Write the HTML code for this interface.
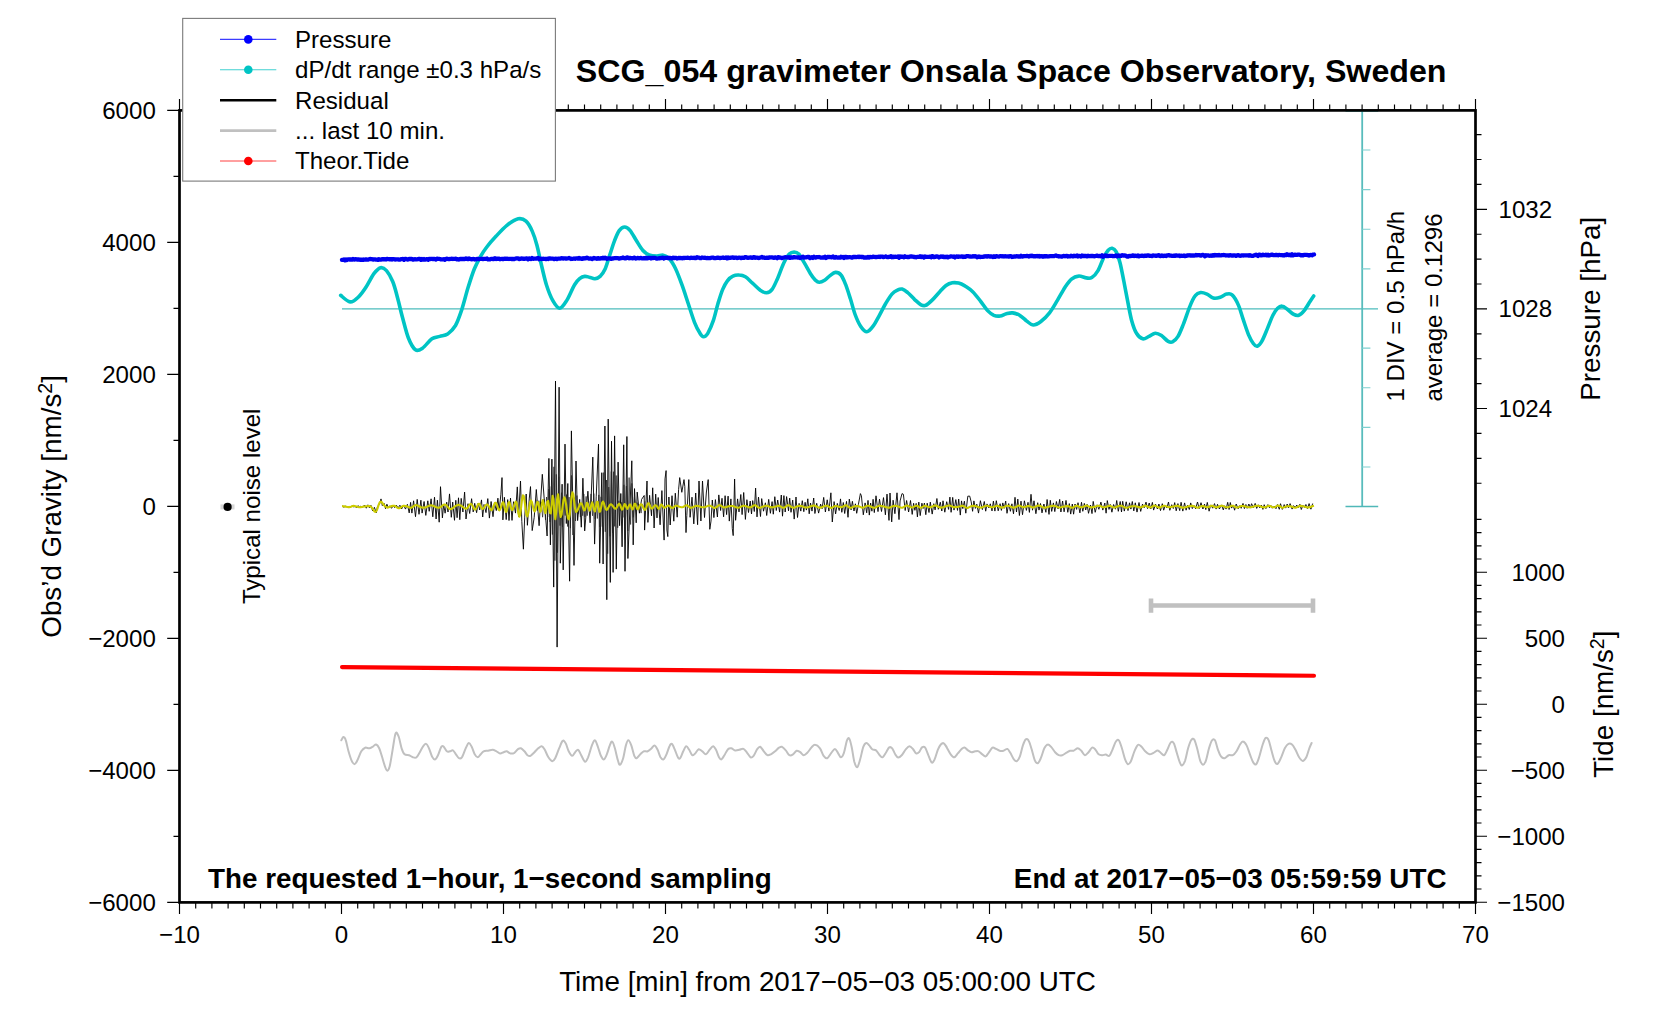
<!DOCTYPE html>
<html lang="en"><head><meta charset="utf-8"><title>SCG_054 gravimeter Onsala Space Observatory, Sweden</title>
<style>html,body{margin:0;padding:0;background:#fff}svg{display:block}text{font-family:"Liberation Sans",Arial,Helvetica,sans-serif;fill:#000}.a{font-size:24.1px}.l{font-size:27.8px}.b{font-size:27.8px;font-weight:bold}.t{font-size:32.2px;font-weight:bold}.k{stroke:#000;stroke-width:1.15;fill:none}</style></head><body>
<svg width="1676" height="1020" viewBox="0 0 1676 1020">
<rect width="1676" height="1020" fill="#fff"/>
<path d="M342,308.9H1378" stroke="#4cbcbc" stroke-width="1.2" fill="none"/>
<path d="M1362.2,110.4V506.6" stroke="#58bcbc" stroke-width="1.8" fill="none"/>
<path d="M1345.5,111.0H1378.2 M1345.5,506.6H1378.2" stroke="#50b8b8" stroke-width="1.5" fill="none"/>
<path d="M1362.2,150.0h8.2M1362.2,189.6h8.2M1362.2,229.3h8.2M1362.2,268.9h8.2M1362.2,348.1h8.2M1362.2,387.7h8.2M1362.2,427.4h8.2M1362.2,467.0h8.2" stroke="#7fcfcf" stroke-width="1.1" fill="none"/>
<path d="M341.3,740.3C341.7,739.7 342.7,737.2 343.4,737.0C344.1,736.9 344.7,737.0 345.5,739.4C346.4,741.8 347.5,747.8 348.5,751.3C349.5,754.8 350.5,758.1 351.5,760.3C352.5,762.4 353.5,764.2 354.5,764.2C355.5,764.2 356.3,762.4 357.4,760.3C358.6,758.1 360.0,753.4 361.3,751.3C362.6,749.2 363.9,748.2 365.2,747.7C366.5,747.2 368.0,748.6 369.4,748.3C370.7,748.1 372.1,746.9 373.3,746.3C374.4,745.6 375.2,744.1 376.2,744.5C377.2,744.8 378.2,746.2 379.2,748.3C380.2,750.5 381.2,754.2 382.2,757.3C383.2,760.4 384.3,764.9 385.2,767.1C386.0,769.4 386.5,770.9 387.3,770.7C388.0,770.6 388.8,769.7 389.7,766.2C390.6,762.8 391.7,755.3 392.6,749.8C393.6,744.4 394.6,735.7 395.6,733.4C396.6,731.2 397.6,733.9 398.6,736.4C399.6,738.9 400.6,745.4 401.6,748.3C402.6,751.3 403.3,753.2 404.6,754.3C405.8,755.5 407.7,754.7 409.1,755.2C410.4,755.7 411.7,756.9 412.9,757.3C414.2,757.6 415.4,758.0 416.5,757.3C417.6,756.5 418.4,754.7 419.5,752.8C420.6,751.0 422.0,747.7 423.1,746.3C424.2,744.8 425.1,743.5 426.1,743.9C427.1,744.2 428.1,746.3 429.0,748.3C430.0,750.4 431.0,754.6 432.0,756.4C433.0,758.2 434.0,759.6 435.0,759.4C436.0,759.2 437.0,757.2 438.0,755.2C439.0,753.2 440.1,748.9 441.0,747.4C441.9,746.0 442.4,745.6 443.4,746.3C444.4,746.9 445.9,750.5 446.9,751.3C448.0,752.2 448.9,751.5 449.9,751.3C450.9,751.2 451.9,749.9 452.9,750.4C453.9,750.9 454.9,753.0 455.9,754.3C456.9,755.6 457.9,757.7 458.9,758.2C459.9,758.7 460.7,758.9 461.9,757.3C463.0,755.7 464.6,750.7 465.7,748.3C466.9,746.0 467.7,743.2 468.7,743.0C469.7,742.7 470.7,745.0 471.7,746.8C472.7,748.7 473.7,752.6 474.7,754.3C475.7,756.0 476.7,757.3 477.7,757.3C478.7,757.3 479.7,755.3 480.7,754.3C481.7,753.3 482.4,751.9 483.6,751.3C484.9,750.7 486.6,751.0 488.1,750.7C489.6,750.5 491.2,749.7 492.6,749.8C494.0,749.9 495.2,750.7 496.5,751.3C497.7,751.9 498.9,753.3 500.0,753.4C501.2,753.6 502.5,752.6 503.6,752.2C504.7,751.9 505.5,751.1 506.6,751.3C507.8,751.5 509.2,753.2 510.5,753.4C511.8,753.7 513.1,753.5 514.4,752.8C515.6,752.1 516.9,750.0 517.9,749.2C519.0,748.5 519.8,748.0 520.9,748.3C522.0,748.7 523.4,750.2 524.5,751.3C525.6,752.5 526.5,754.5 527.5,755.2C528.5,755.9 529.3,756.3 530.5,755.8C531.6,755.3 533.1,753.5 534.4,752.2C535.6,751.0 537.0,749.3 538.2,748.3C539.5,747.3 540.7,746.0 541.8,746.3C542.9,746.5 543.7,748.0 544.8,749.8C545.9,751.7 547.1,755.4 548.4,757.3C549.6,759.2 551.1,761.0 552.3,761.2C553.4,761.3 554.1,760.3 555.2,758.2C556.4,756.0 557.9,751.2 559.1,748.3C560.4,745.5 561.6,741.7 562.7,740.9C563.8,740.0 564.7,741.5 565.7,743.3C566.7,745.0 567.6,749.2 568.7,751.3C569.8,753.4 571.1,755.7 572.2,755.8C573.3,755.9 574.2,753.2 575.2,752.2C576.2,751.2 577.2,749.3 578.2,749.8C579.2,750.3 580.0,753.2 581.2,755.2C582.3,757.2 583.9,761.4 585.1,761.8C586.2,762.1 586.9,760.0 588.1,757.3C589.2,754.6 590.8,748.2 591.9,745.4C593.1,742.5 593.9,740.0 594.9,740.3C595.9,740.5 596.9,744.3 597.9,746.8C598.9,749.4 599.9,753.7 600.9,755.8C601.9,757.9 602.9,759.6 603.9,759.4C604.9,759.1 605.9,756.6 606.8,754.3C607.8,752.0 608.9,747.5 609.8,745.4C610.7,743.2 611.4,741.0 612.2,741.5C613.1,742.0 614.0,745.2 614.9,748.3C615.8,751.5 617.0,757.5 617.9,760.3C618.7,763.0 619.1,765.0 620.0,764.7C620.8,764.5 622.0,762.0 623.0,758.8C624.0,755.6 625.0,748.4 625.9,745.4C626.8,742.3 627.4,740.3 628.3,740.3C629.2,740.3 630.3,742.8 631.3,745.4C632.3,747.9 633.4,753.7 634.3,755.8C635.2,757.9 635.7,758.4 636.7,758.2C637.7,757.9 639.1,755.5 640.3,754.3C641.5,753.2 642.6,751.8 643.8,751.3C645.1,750.8 646.4,751.8 647.7,751.3C649.0,750.8 650.5,749.3 651.6,748.3C652.7,747.3 653.6,745.1 654.6,745.4C655.6,745.6 656.6,747.8 657.6,749.8C658.6,751.8 659.6,755.7 660.5,757.3C661.5,758.9 662.5,759.9 663.5,759.4C664.5,758.9 665.5,756.5 666.5,754.3C667.5,752.1 668.6,748.0 669.5,746.3C670.4,744.5 671.0,743.3 671.9,743.9C672.8,744.5 673.9,747.6 674.9,749.8C675.9,752.1 677.0,755.9 677.9,757.3C678.7,758.7 679.3,759.2 680.2,758.2C681.1,757.2 682.2,753.3 683.2,751.3C684.2,749.3 685.2,746.5 686.2,746.3C687.2,746.0 688.2,748.3 689.2,749.8C690.2,751.3 691.2,754.6 692.2,755.2C693.2,755.8 694.1,754.4 695.2,753.4C696.2,752.4 697.5,749.6 698.7,749.2C699.9,748.9 701.1,750.5 702.3,751.3C703.5,752.2 704.7,754.6 705.9,754.3C707.1,754.1 708.3,751.2 709.5,749.8C710.7,748.5 712.0,746.3 713.1,746.3C714.1,746.3 715.0,748.0 716.0,749.8C717.0,751.7 718.1,755.7 719.0,757.3C719.9,758.9 720.5,759.7 721.4,759.4C722.3,759.0 723.3,756.9 724.4,755.2C725.5,753.5 726.8,750.4 728.0,749.2C729.1,748.1 730.1,748.1 731.3,748.3C732.4,748.5 733.8,750.2 735.1,750.4C736.5,750.7 737.9,750.1 739.3,749.8C740.7,749.6 742.2,748.4 743.5,748.9C744.8,749.4 745.9,751.4 747.1,752.8C748.3,754.2 749.6,756.8 750.6,757.3C751.7,757.8 752.5,757.1 753.6,755.8C754.7,754.5 756.1,750.7 757.2,749.2C758.3,747.7 759.1,746.5 760.2,746.8C761.3,747.2 762.6,749.9 763.8,751.3C765.0,752.7 766.2,754.7 767.4,755.2C768.5,755.7 769.6,755.0 770.9,754.3C772.2,753.7 773.8,752.4 775.1,751.3C776.4,750.2 777.8,748.5 779.0,747.7C780.1,747.0 780.8,746.4 782.0,746.8C783.1,747.3 784.6,749.0 785.8,750.4C787.1,751.8 788.2,754.6 789.4,755.2C790.6,755.8 791.8,755.1 793.0,754.3C794.2,753.6 795.4,751.1 796.6,750.7C797.8,750.4 799.0,751.5 800.2,752.2C801.4,753.0 802.6,755.1 803.7,755.2C804.9,755.3 806.0,754.1 807.3,752.8C808.6,751.5 810.2,748.8 811.5,747.4C812.8,746.1 813.7,744.6 815.1,744.8C816.5,744.9 818.6,746.5 820.0,748.3C821.4,750.2 822.4,754.2 823.6,755.8C824.8,757.4 825.9,758.7 827.2,758.2C828.5,757.7 830.0,754.4 831.3,752.8C832.6,751.3 833.8,748.9 834.9,748.9C836.0,748.9 836.9,751.4 837.9,752.8C838.9,754.2 839.9,757.3 840.9,757.3C841.9,757.3 842.9,755.6 843.9,752.8C844.9,750.1 846.0,743.3 846.8,740.9C847.7,738.5 848.4,737.5 849.2,738.5C850.0,739.5 850.8,743.0 851.6,746.8C852.5,750.7 853.4,758.4 854.3,761.8C855.3,765.1 856.3,767.6 857.3,767.1C858.3,766.6 859.3,762.2 860.3,758.8C861.3,755.4 862.3,749.5 863.3,746.8C864.3,744.2 865.2,743.2 866.2,743.0C867.2,742.7 868.2,744.3 869.2,745.4C870.2,746.4 871.1,748.4 872.2,749.2C873.4,750.1 874.8,749.4 876.1,750.4C877.3,751.4 878.6,754.1 879.7,755.2C880.8,756.3 881.6,757.8 882.6,757.3C883.7,756.8 885.1,753.9 886.2,752.2C887.3,750.6 888.2,748.1 889.2,747.4C890.2,746.8 891.2,747.2 892.2,748.3C893.2,749.5 894.2,752.8 895.2,754.3C896.2,755.8 897.1,757.4 898.2,757.6C899.3,757.7 900.4,756.6 901.7,755.2C903.0,753.8 904.6,750.7 905.9,749.2C907.2,747.7 908.3,746.3 909.5,746.3C910.7,746.3 912.0,748.0 913.1,749.2C914.2,750.4 915.1,752.9 916.1,753.4C917.1,753.9 918.1,753.2 919.0,752.2C920.0,751.2 921.0,748.2 922.0,747.4C923.0,746.7 924.0,746.3 925.0,747.4C926.0,748.6 926.9,751.8 928.0,754.3C929.1,756.8 930.5,761.5 931.6,762.4C932.7,763.2 933.5,761.5 934.6,759.4C935.6,757.3 936.8,752.3 937.8,749.8C938.9,747.3 939.8,745.6 940.8,744.5C941.8,743.4 942.8,742.8 943.8,743.3C944.8,743.8 945.6,745.6 946.8,747.4C947.9,749.3 949.4,752.7 950.7,754.3C951.9,755.9 953.1,757.4 954.2,757.3C955.4,757.1 956.6,754.8 957.8,753.4C959.0,752.1 960.3,750.2 961.4,749.2C962.5,748.2 963.3,747.2 964.4,747.4C965.5,747.6 966.8,749.6 968.0,750.4C969.2,751.2 970.4,752.1 971.6,752.2C972.7,752.4 973.9,751.5 975.1,751.3C976.3,751.2 977.5,750.8 978.7,751.3C979.9,751.8 981.1,753.5 982.3,754.3C983.4,755.2 984.5,756.6 985.6,756.4C986.6,756.1 987.4,754.3 988.6,752.8C989.7,751.4 991.2,748.4 992.4,747.7C993.7,747.1 994.8,748.4 996.0,748.9C997.2,749.4 998.4,750.4 999.6,750.7C1000.8,751.0 1002.2,751.0 1003.5,750.7C1004.8,750.4 1006.2,748.6 1007.4,748.9C1008.5,749.3 1009.2,751.1 1010.3,752.8C1011.4,754.6 1012.8,758.0 1013.9,759.4C1015.0,760.8 1015.9,761.7 1016.9,761.2C1017.9,760.7 1018.9,759.0 1019.9,756.4C1020.9,753.8 1021.9,748.2 1022.9,745.4C1023.9,742.5 1024.9,740.1 1025.8,739.4C1026.8,738.6 1027.8,739.1 1028.8,740.9C1029.8,742.6 1030.8,746.6 1031.8,749.8C1032.8,753.1 1033.8,758.0 1034.8,760.3C1035.8,762.5 1036.8,763.6 1037.8,763.3C1038.8,762.9 1039.7,760.7 1040.8,758.2C1041.9,755.7 1043.2,750.6 1044.3,748.3C1045.5,746.1 1046.7,744.6 1047.9,744.5C1049.1,744.3 1050.3,746.2 1051.5,747.4C1052.7,748.7 1053.9,750.9 1055.1,752.2C1056.3,753.5 1057.5,754.7 1058.7,755.2C1059.9,755.7 1061.0,755.6 1062.2,755.2C1063.5,754.8 1064.8,753.6 1066.1,752.8C1067.4,752.1 1068.8,751.1 1070.0,750.7C1071.2,750.4 1072.3,751.1 1073.6,750.7C1074.9,750.3 1076.5,748.3 1077.8,748.3C1079.0,748.3 1080.1,749.6 1081.3,750.7C1082.5,751.9 1083.7,755.0 1084.9,755.2C1086.1,755.5 1087.3,753.5 1088.5,752.2C1089.7,751.0 1091.0,748.2 1092.1,747.7C1093.2,747.2 1094.0,748.1 1095.1,749.2C1096.2,750.3 1097.4,753.3 1098.6,754.3C1099.8,755.3 1101.0,755.2 1102.2,755.2C1103.4,755.3 1104.6,754.5 1105.8,754.6C1107.0,754.7 1108.3,756.6 1109.4,755.8C1110.5,755.0 1111.3,752.2 1112.4,749.8C1113.5,747.4 1114.8,743.1 1115.9,741.5C1117.0,739.9 1117.9,739.1 1118.9,740.3C1119.9,741.4 1120.9,745.3 1121.9,748.3C1122.9,751.4 1123.9,756.1 1124.9,758.8C1125.9,761.4 1126.9,763.8 1127.9,764.2C1128.9,764.6 1129.8,763.3 1130.9,761.2C1132.0,759.0 1133.2,754.1 1134.4,751.3C1135.6,748.6 1136.8,745.5 1138.0,744.8C1139.2,744.0 1140.4,745.8 1141.6,746.8C1142.8,747.9 1143.9,750.1 1145.2,751.3C1146.5,752.6 1148.0,754.1 1149.4,754.3C1150.7,754.6 1152.1,753.5 1153.5,752.8C1154.9,752.2 1156.4,750.3 1157.7,750.4C1159.0,750.5 1160.2,752.6 1161.3,753.4C1162.4,754.2 1163.3,755.8 1164.3,755.2C1165.3,754.6 1166.2,752.0 1167.3,749.8C1168.3,747.7 1169.7,743.5 1170.8,742.4C1171.9,741.3 1172.8,741.5 1173.8,743.3C1174.8,745.0 1175.8,749.6 1176.8,752.8C1177.8,756.0 1178.9,760.3 1179.8,762.4C1180.7,764.5 1181.3,765.7 1182.2,765.3C1183.1,765.0 1184.2,763.1 1185.2,760.3C1186.1,757.4 1187.1,751.7 1188.1,748.3C1189.1,745.0 1190.1,741.8 1191.1,740.3C1192.1,738.8 1193.1,738.0 1194.1,739.4C1195.1,740.7 1196.1,744.9 1197.1,748.3C1198.1,751.8 1199.1,757.5 1200.1,760.3C1201.1,763.0 1202.1,764.7 1203.1,764.7C1204.0,764.7 1205.0,763.0 1206.0,760.3C1207.0,757.5 1208.0,751.7 1209.0,748.3C1210.0,745.0 1211.0,741.6 1212.0,740.3C1213.0,738.9 1214.0,738.7 1215.0,740.3C1216.0,741.9 1217.0,747.1 1218.0,749.8C1219.0,752.5 1219.9,755.0 1221.0,756.4C1222.0,757.8 1223.2,758.4 1224.5,758.2C1225.8,758.0 1227.3,755.7 1228.7,755.2C1230.1,754.7 1231.6,755.8 1232.9,755.2C1234.2,754.6 1235.3,753.1 1236.5,751.3C1237.7,749.5 1239.0,746.1 1240.0,744.5C1241.1,742.8 1241.9,741.3 1243.0,741.5C1244.1,741.6 1245.4,743.1 1246.6,745.4C1247.8,747.6 1249.1,752.4 1250.2,755.2C1251.3,758.0 1252.2,760.9 1253.2,762.4C1254.2,763.9 1255.2,765.0 1256.2,764.2C1257.2,763.3 1258.0,760.6 1259.1,757.3C1260.2,754.0 1261.6,747.7 1262.7,744.5C1263.8,741.2 1264.7,738.6 1265.7,737.9C1266.7,737.2 1267.7,738.0 1268.7,740.3C1269.7,742.5 1270.7,747.8 1271.7,751.3C1272.7,754.8 1273.7,759.1 1274.7,761.2C1275.6,763.3 1276.5,764.5 1277.6,763.9C1278.7,763.2 1280.0,759.9 1281.2,757.3C1282.4,754.7 1283.6,750.6 1284.8,748.3C1286.0,746.1 1287.2,744.5 1288.4,743.9C1289.6,743.2 1290.8,743.5 1292.0,744.5C1293.2,745.5 1294.3,747.7 1295.5,749.8C1296.7,752.0 1297.9,755.5 1299.1,757.3C1300.3,759.1 1301.5,760.9 1302.7,760.9C1303.9,760.9 1305.2,759.4 1306.3,757.3C1307.4,755.2 1308.4,750.7 1309.3,748.3C1310.2,746.0 1311.2,743.9 1311.6,743.0" stroke="#c0c0c0" stroke-width="2" fill="none" stroke-linejoin="round" stroke-linecap="round"/>
<path d="M340.7,295.3C342.2,296.4 347.1,301.6 350.1,301.9C353.0,302.2 355.6,299.7 358.2,297.2C360.9,294.7 363.5,291.0 366.1,287.0C368.7,283.1 371.5,276.9 373.9,273.7C376.3,270.5 378.4,268.3 380.5,267.7C382.6,267.2 384.4,268.3 386.5,270.6C388.5,272.9 390.9,277.1 392.7,281.5C394.6,286.0 395.9,291.5 397.4,297.2C399.0,303.0 400.3,309.2 402.1,316.0C404.0,322.8 406.2,332.4 408.4,338.0C410.6,343.6 413.1,348.1 415.5,349.8C417.8,351.5 419.8,350.0 422.5,348.2C425.3,346.4 429.1,340.7 431.9,338.8C434.8,336.8 437.2,337.2 439.8,336.4C442.4,335.6 445.0,335.9 447.6,334.1C450.2,332.2 453.1,329.5 455.5,325.5C457.8,321.4 459.6,316.0 461.7,309.8C463.8,303.5 465.9,294.6 468.0,287.8C470.1,281.0 472.2,274.2 474.3,269.0C476.4,263.8 478.5,260.1 480.5,256.5C482.6,252.8 484.2,250.4 486.8,247.0C489.4,243.6 492.8,239.7 496.2,236.1C499.6,232.4 503.5,228.0 507.2,225.1C510.9,222.2 515.0,219.5 518.2,218.8C521.3,218.2 523.7,219.1 526.0,221.2C528.4,223.3 530.5,227.3 532.3,231.4C534.1,235.4 535.6,240.2 537.0,245.5C538.4,250.7 539.3,256.2 540.9,262.7C542.5,269.3 544.4,278.4 546.4,284.7C548.4,291.0 550.5,296.4 552.7,300.4C554.9,304.3 557.4,308.2 559.7,308.2C562.1,308.2 564.3,304.3 566.8,300.4C569.3,296.4 572.4,288.3 574.6,284.7C576.8,281.0 578.3,279.8 580.0,278.4C581.7,277.0 583.1,276.6 584.7,276.4C586.3,276.2 587.7,276.8 589.4,277.2C591.1,277.5 593.1,278.9 594.9,278.7C596.7,278.5 598.7,277.7 600.4,276.1C602.1,274.4 603.5,272.5 605.1,269.0C606.7,265.5 608.2,259.6 609.8,254.9C611.4,250.2 612.9,244.8 614.5,240.8C616.1,236.7 617.5,232.9 619.2,230.6C620.9,228.3 622.9,227.0 624.7,227.0C626.5,227.0 628.2,228.3 630.2,230.6C632.1,232.9 634.4,237.5 636.5,240.8C638.5,244.0 640.6,247.8 642.7,250.2C644.8,252.5 646.6,253.9 649.0,254.9C651.4,255.9 654.5,256.1 656.8,256.1C659.2,256.2 661.0,254.8 663.1,255.2C665.2,255.6 667.3,256.5 669.4,258.8C671.5,261.1 673.6,264.7 675.7,269.0C677.7,273.3 679.8,278.9 681.9,284.7C684.0,290.4 686.1,297.2 688.2,303.5C690.3,309.8 692.5,317.3 694.5,322.3C696.4,327.3 698.5,330.9 700.0,333.3C701.5,335.7 702.1,336.7 703.4,336.7C704.7,336.7 706.2,336.0 707.8,333.3C709.4,330.6 711.6,325.7 713.3,320.7C715.0,315.8 716.4,308.7 718.0,303.5C719.6,298.3 721.1,293.2 722.7,289.4C724.3,285.6 725.7,283.0 727.4,280.8C729.1,278.5 730.9,277.0 732.9,276.1C734.9,275.1 737.1,274.8 739.2,275.0C741.3,275.1 743.2,275.5 745.4,276.8C747.7,278.2 750.0,280.9 752.5,283.1C755.0,285.3 758.0,288.5 760.3,290.2C762.7,291.8 764.6,293.0 766.6,292.8C768.6,292.7 770.3,291.8 772.1,289.4C773.9,287.0 775.6,282.8 777.6,278.4C779.5,274.0 781.9,266.8 783.9,262.7C785.8,258.7 787.6,255.9 789.3,254.1C791.0,252.3 792.5,252.1 794.1,252.1C795.6,252.1 797.1,252.3 798.8,254.1C800.5,255.9 802.3,259.5 804.2,262.7C806.2,266.0 808.7,270.8 810.5,273.7C812.3,276.6 813.8,278.5 815.2,280.0C816.7,281.4 817.6,282.3 819.1,282.3C820.7,282.4 822.8,281.4 824.6,280.3C826.4,279.2 828.2,276.9 830.0,275.6C831.8,274.3 833.7,272.6 835.5,272.4C837.3,272.3 839.3,272.9 841.0,275.0C842.7,277.0 844.1,280.7 845.7,284.7C847.2,288.7 848.8,293.8 850.4,298.8C852.0,303.8 853.4,309.9 855.1,314.5C856.8,319.0 858.6,323.4 860.6,326.2C862.5,329.1 864.8,331.7 866.9,331.7C868.9,331.7 871.0,329.0 873.1,326.2C875.2,323.5 877.3,319.0 879.4,315.3C881.5,311.5 883.6,307.0 885.7,303.5C887.8,300.0 890.0,296.3 891.9,294.1C893.9,291.9 895.7,291.0 897.4,290.2C899.1,289.3 900.4,288.7 902.1,289.1C903.8,289.5 905.5,290.8 907.6,292.5C909.7,294.3 912.5,297.5 914.7,299.6C916.9,301.6 919.1,303.8 921.0,304.8C922.8,305.7 923.8,306.1 925.7,305.4C927.5,304.6 929.6,302.6 931.9,300.4C934.3,298.1 937.4,294.2 939.8,291.7C942.1,289.3 944.0,287.0 946.0,285.5C948.1,284.0 950.2,283.2 952.3,282.8C954.4,282.4 956.5,282.6 958.6,283.1C960.7,283.6 962.5,284.5 964.9,285.9C967.2,287.4 970.1,289.2 972.7,291.7C975.3,294.3 978.1,298.0 980.5,301.1C983.0,304.3 985.4,308.2 987.6,310.6C989.8,312.9 991.8,314.3 993.9,315.3C996.0,316.2 998.1,316.3 1000.1,316.0C1002.2,315.8 1004.3,314.2 1006.4,313.7C1008.5,313.2 1010.5,312.6 1012.7,312.9C1014.9,313.2 1017.4,313.9 1019.7,315.3C1022.1,316.6 1024.6,319.4 1026.8,321.1C1029.0,322.7 1030.7,324.9 1033.1,325.0C1035.4,325.1 1038.2,323.5 1040.9,321.5C1043.7,319.5 1046.8,316.4 1049.5,312.9C1052.3,309.4 1054.8,304.7 1057.4,300.4C1060.0,296.0 1062.9,290.6 1065.2,287.0C1067.6,283.5 1069.3,281.0 1071.5,279.2C1073.7,277.4 1076.1,276.3 1078.5,276.1C1081.0,275.8 1084.1,277.7 1086.3,277.9C1088.5,278.2 1089.8,278.9 1091.8,277.6C1093.7,276.4 1096.1,273.8 1098.0,270.6C1100.0,267.3 1101.8,261.4 1103.5,258.0C1105.2,254.6 1106.8,251.8 1108.2,250.2C1109.7,248.6 1110.8,248.0 1112.1,248.3C1113.5,248.6 1114.8,249.3 1116.1,251.7C1117.4,254.2 1118.7,257.8 1120.0,262.7C1121.3,267.7 1122.6,275.0 1123.9,281.5C1125.2,288.1 1126.5,295.4 1127.8,301.9C1129.1,308.5 1130.3,315.5 1131.7,320.7C1133.2,326.0 1134.6,330.3 1136.5,333.3C1138.3,336.3 1140.6,338.3 1142.7,338.8C1144.8,339.3 1146.9,337.3 1149.0,336.4C1151.1,335.5 1153.2,333.4 1155.3,333.3C1157.4,333.2 1159.5,334.3 1161.5,335.6C1163.6,337.0 1166.0,340.1 1167.8,341.1C1169.6,342.2 1170.8,342.7 1172.5,341.9C1174.2,341.1 1176.2,339.4 1178.0,336.4C1179.8,333.4 1181.5,328.8 1183.5,323.9C1185.5,318.9 1187.8,311.3 1189.8,306.6C1191.7,301.9 1193.4,298.0 1195.3,295.7C1197.1,293.3 1198.8,292.8 1200.7,292.5C1202.7,292.3 1204.9,293.2 1207.0,294.1C1209.1,295.0 1211.1,297.5 1213.3,298.0C1215.5,298.5 1218.1,297.9 1220.3,297.2C1222.6,296.6 1224.7,294.5 1226.6,294.1C1228.6,293.7 1230.1,293.0 1232.1,294.9C1234.1,296.7 1236.6,301.0 1238.4,305.1C1240.2,309.1 1241.4,314.2 1243.1,319.2C1244.8,324.1 1246.9,330.8 1248.6,334.9C1250.3,338.9 1251.8,341.6 1253.3,343.5C1254.7,345.4 1255.8,346.5 1257.2,346.2C1258.6,345.8 1260.2,344.1 1261.9,341.1C1263.6,338.2 1265.6,332.9 1267.4,328.6C1269.2,324.3 1271.2,318.7 1272.9,315.3C1274.6,311.9 1276.0,309.7 1277.6,308.2C1279.2,306.7 1280.7,306.0 1282.3,306.2C1283.9,306.3 1285.2,307.7 1287.0,309.0C1288.8,310.3 1291.3,313.1 1293.3,314.2C1295.2,315.2 1296.9,315.9 1298.8,315.3C1300.6,314.7 1302.4,312.8 1304.2,310.6C1306.1,308.3 1308.2,304.4 1309.7,301.9C1311.3,299.5 1313.0,297.0 1313.7,296.0" stroke="#00c4c4" stroke-width="3.6" fill="none" stroke-linejoin="round" stroke-linecap="round"/>
<path d="M342.0,259.8L343.0,259.9L344.0,259.4L345.0,260.3L346.0,259.5L347.0,260.0L348.0,259.3L349.0,259.3L350.0,259.6L351.0,259.3L352.0,259.7L353.0,258.9L354.0,259.6L355.0,259.4L356.0,259.2L357.0,259.6L358.0,259.5L359.0,259.4L360.0,259.8L361.0,259.6L362.0,259.6L363.0,259.9L364.0,259.5L365.0,259.7L366.0,259.4L367.0,259.7L368.0,259.6L369.0,259.3L370.0,259.0L371.0,259.1L372.0,259.2L373.0,259.6L374.0,259.4L375.0,259.4L376.0,259.6L377.0,259.6L378.0,259.8L379.0,259.2L380.0,259.6L381.0,259.6L382.0,259.1L383.0,259.4L384.0,259.1L385.0,259.3L386.0,259.5L387.0,258.9L388.0,259.1L389.0,259.1L390.0,259.4L391.0,259.1L392.0,259.5L393.0,259.1L394.0,259.2L395.0,259.5L396.0,259.4L397.0,259.4L398.0,259.3L399.0,259.6L400.0,259.7L401.0,259.2L402.0,259.1L403.0,259.0L404.0,259.8L405.0,259.0L406.0,258.9L407.0,259.4L408.0,259.6L409.0,258.9L410.0,259.2L411.0,258.8L412.0,259.1L413.0,259.7L414.0,259.3L415.0,259.2L416.0,259.3L417.0,259.3L418.0,259.2L419.0,258.9L420.0,258.9L421.0,259.8L422.0,259.0L423.0,259.6L424.0,259.0L425.0,259.6L426.0,259.4L427.0,259.1L428.0,259.8L429.0,258.9L430.0,259.1L431.0,258.9L432.0,258.9L433.0,259.1L434.0,258.9L435.0,259.1L436.0,259.6L437.0,258.6L438.0,258.8L439.0,258.8L440.0,259.0L441.0,259.4L442.0,259.3L443.0,259.3L444.0,259.2L445.0,259.8L446.0,258.8L447.0,258.7L448.0,259.1L449.0,259.1L450.0,259.0L451.0,258.8L452.0,258.7L453.0,259.0L454.0,258.8L455.0,258.9L456.0,258.7L457.0,259.4L458.0,259.2L459.0,259.6L460.0,258.9L461.0,259.0L462.0,258.9L463.0,259.0L464.0,258.9L465.0,259.0L466.0,258.4L467.0,258.9L468.0,259.2L469.0,258.4L470.0,258.9L471.0,259.1L472.0,259.3L473.0,258.9L474.0,259.1L475.0,259.5L476.0,259.3L477.0,258.8L478.0,258.8L479.0,259.2L480.0,259.0L481.0,258.8L482.0,258.9L483.0,259.0L484.0,258.9L485.0,258.8L486.0,258.8L487.0,258.5L488.0,259.4L489.0,259.3L490.0,259.3L491.0,258.8L492.0,258.9L493.0,259.0L494.0,259.1L495.0,258.3L496.0,259.0L497.0,258.6L498.0,258.8L499.0,258.6L500.0,259.3L501.0,259.0L502.0,258.8L503.0,259.2L504.0,258.8L505.0,258.6L506.0,258.8L507.0,258.7L508.0,258.8L509.0,259.0L510.0,258.8L511.0,258.8L512.0,259.1L513.0,258.9L514.0,259.1L515.0,258.8L516.0,258.4L517.0,258.4L518.0,258.3L519.0,259.1L520.0,258.9L521.0,258.6L522.0,258.4L523.0,258.8L524.0,258.7L525.0,258.8L526.0,258.5L527.0,258.4L528.0,259.2L529.0,258.4L530.0,258.7L531.0,259.1L532.0,258.1L533.0,258.9L534.0,258.7L535.0,258.6L536.0,258.7L537.0,258.3L538.0,258.0L539.0,259.2L540.0,258.6L541.0,258.9L542.0,259.0L543.0,258.7L544.0,258.8L545.0,258.8L546.0,259.1L547.0,258.8L548.0,259.0L549.0,258.5L550.0,258.5L551.0,258.6L552.0,258.7L553.0,258.7L554.0,259.2L555.0,258.8L556.0,258.6L557.0,259.2L558.0,258.7L559.0,258.7L560.0,258.7L561.0,258.4L562.0,258.2L563.0,258.6L564.0,258.4L565.0,258.3L566.0,258.6L567.0,258.5L568.0,258.3L569.0,258.0L570.0,258.4L571.0,259.0L572.0,258.8L573.0,258.8L574.0,258.5L575.0,258.8L576.0,258.3L577.0,258.3L578.0,258.6L579.0,258.0L580.0,258.5L581.0,258.5L582.0,258.9L583.0,258.2L584.0,258.6L585.0,258.2L586.0,258.3L587.0,257.6L588.0,258.1L589.0,258.7L590.0,258.6L591.0,258.4L592.0,259.1L593.0,258.5L594.0,258.0L595.0,258.3L596.0,258.4L597.0,258.8L598.0,258.1L599.0,258.5L600.0,258.6L601.0,258.1L602.0,258.4L603.0,257.7L604.0,258.4L605.0,257.7L606.0,258.2L607.0,258.8L608.0,258.4L609.0,258.3L610.0,258.4L611.0,258.9L612.0,258.5L613.0,258.6L614.0,258.2L615.0,258.2L616.0,258.0L617.0,258.2L618.0,258.1L619.0,258.6L620.0,258.4L621.0,258.2L622.0,258.1L623.0,257.4L624.0,258.1L625.0,258.3L626.0,258.4L627.0,257.3L628.0,257.5L629.0,258.3L630.0,257.9L631.0,258.1L632.0,258.1L633.0,258.4L634.0,257.6L635.0,258.0L636.0,258.5L637.0,258.2L638.0,257.9L639.0,258.3L640.0,258.2L641.0,257.9L642.0,258.4L643.0,258.3L644.0,258.1L645.0,258.4L646.0,257.8L647.0,258.4L648.0,258.1L649.0,257.8L650.0,257.9L651.0,258.5L652.0,257.9L653.0,258.0L654.0,257.9L655.0,257.9L656.0,258.4L657.0,258.7L658.0,258.5L659.0,258.2L660.0,258.3L661.0,258.0L662.0,257.9L663.0,257.7L664.0,258.5L665.0,257.9L666.0,257.8L667.0,257.8L668.0,258.1L669.0,257.9L670.0,258.0L671.0,258.1L672.0,258.4L673.0,257.6L674.0,258.1L675.0,257.8L676.0,257.9L677.0,258.5L678.0,258.2L679.0,257.9L680.0,258.1L681.0,258.0L682.0,258.3L683.0,257.8L684.0,258.1L685.0,257.9L686.0,257.9L687.0,257.9L688.0,257.7L689.0,258.0L690.0,258.2L691.0,257.7L692.0,257.8L693.0,258.0L694.0,257.7L695.0,258.2L696.0,258.1L697.0,257.2L698.0,257.7L699.0,257.6L700.0,258.1L701.0,258.1L702.0,257.5L703.0,257.7L704.0,257.8L705.0,257.7L706.0,258.1L707.0,258.1L708.0,258.0L709.0,258.2L710.0,258.1L711.0,257.8L712.0,257.7L713.0,257.6L714.0,258.0L715.0,258.1L716.0,258.1L717.0,257.7L718.0,257.7L719.0,257.9L720.0,258.1L721.0,257.9L722.0,257.8L723.0,257.5L724.0,257.9L725.0,257.9L726.0,257.5L727.0,258.3L728.0,257.5L729.0,258.0L730.0,257.7L731.0,257.8L732.0,257.5L733.0,257.5L734.0,257.9L735.0,257.6L736.0,257.6L737.0,258.0L738.0,257.9L739.0,257.7L740.0,257.7L741.0,258.2L742.0,257.6L743.0,257.8L744.0,257.8L745.0,257.2L746.0,257.1L747.0,257.7L748.0,257.9L749.0,257.7L750.0,257.5L751.0,257.4L752.0,257.9L753.0,257.5L754.0,257.1L755.0,257.8L756.0,257.7L757.0,257.7L758.0,257.9L759.0,258.0L760.0,257.7L761.0,257.5L762.0,256.9L763.0,257.7L764.0,257.5L765.0,257.9L766.0,257.9L767.0,257.7L768.0,257.9L769.0,257.5L770.0,257.5L771.0,257.3L772.0,257.4L773.0,257.6L774.0,257.8L775.0,257.3L776.0,257.7L777.0,258.2L778.0,257.1L779.0,257.4L780.0,257.5L781.0,257.8L782.0,258.1L783.0,257.8L784.0,257.5L785.0,257.2L786.0,257.4L787.0,257.4L788.0,257.5L789.0,257.2L790.0,257.9L791.0,257.2L792.0,257.6L793.0,257.5L794.0,257.1L795.0,257.4L796.0,257.4L797.0,257.3L798.0,257.6L799.0,257.3L800.0,258.1L801.0,257.7L802.0,257.1L803.0,256.6L804.0,257.7L805.0,257.4L806.0,257.4L807.0,257.1L808.0,256.9L809.0,256.8L810.0,258.1L811.0,257.8L812.0,257.2L813.0,257.9L814.0,256.8L815.0,257.5L816.0,257.5L817.0,257.1L818.0,257.2L819.0,257.0L820.0,257.3L821.0,257.7L822.0,257.6L823.0,257.4L824.0,257.6L825.0,256.7L826.0,257.9L827.0,257.2L828.0,256.9L829.0,257.1L830.0,257.0L831.0,257.3L832.0,257.3L833.0,256.5L834.0,257.6L835.0,257.7L836.0,256.9L837.0,257.6L838.0,257.6L839.0,257.5L840.0,257.7L841.0,256.8L842.0,257.4L843.0,256.9L844.0,257.9L845.0,256.9L846.0,256.8L847.0,257.5L848.0,257.3L849.0,257.2L850.0,257.2L851.0,257.3L852.0,257.7L853.0,256.9L854.0,257.0L855.0,256.9L856.0,257.1L857.0,257.1L858.0,256.7L859.0,257.2L860.0,256.7L861.0,257.0L862.0,257.0L863.0,257.0L864.0,257.5L865.0,257.6L866.0,257.4L867.0,257.5L868.0,257.0L869.0,257.5L870.0,257.0L871.0,257.1L872.0,257.1L873.0,256.6L874.0,256.8L875.0,257.0L876.0,257.1L877.0,257.0L878.0,256.8L879.0,256.7L880.0,257.0L881.0,256.6L882.0,256.6L883.0,257.0L884.0,257.0L885.0,256.7L886.0,256.4L887.0,257.1L888.0,257.2L889.0,256.8L890.0,256.8L891.0,256.2L892.0,257.2L893.0,256.6L894.0,257.1L895.0,256.7L896.0,256.9L897.0,256.9L898.0,256.4L899.0,257.7L900.0,256.4L901.0,256.9L902.0,256.6L903.0,256.8L904.0,257.3L905.0,256.3L906.0,256.8L907.0,257.0L908.0,256.9L909.0,257.0L910.0,256.6L911.0,256.4L912.0,256.5L913.0,256.7L914.0,257.1L915.0,256.9L916.0,257.3L917.0,256.8L918.0,256.9L919.0,256.9L920.0,256.3L921.0,257.0L922.0,256.5L923.0,256.7L924.0,257.5L925.0,256.4L926.0,256.8L927.0,256.9L928.0,256.8L929.0,256.8L930.0,256.6L931.0,257.3L932.0,256.1L933.0,256.4L934.0,257.2L935.0,256.9L936.0,256.5L937.0,256.5L938.0,256.6L939.0,257.5L940.0,256.9L941.0,256.4L942.0,256.8L943.0,256.5L944.0,257.1L945.0,256.8L946.0,257.1L947.0,256.7L948.0,257.3L949.0,256.8L950.0,256.7L951.0,256.3L952.0,256.5L953.0,256.8L954.0,256.5L955.0,257.4L956.0,256.6L957.0,256.4L958.0,256.9L959.0,256.5L960.0,256.7L961.0,256.6L962.0,256.4L963.0,257.0L964.0,256.6L965.0,256.9L966.0,256.5L967.0,256.1L968.0,256.2L969.0,256.4L970.0,256.5L971.0,256.6L972.0,256.7L973.0,256.2L974.0,256.6L975.0,256.2L976.0,256.3L977.0,257.3L978.0,256.9L979.0,256.4L980.0,257.1L981.0,256.9L982.0,256.8L983.0,256.9L984.0,256.4L985.0,256.5L986.0,256.2L987.0,256.7L988.0,256.1L989.0,256.3L990.0,256.6L991.0,256.3L992.0,256.6L993.0,257.0L994.0,256.2L995.0,256.9L996.0,256.2L997.0,256.2L998.0,256.5L999.0,256.7L1000.0,256.2L1001.0,256.2L1002.0,256.3L1003.0,256.2L1004.0,256.5L1005.0,256.2L1006.0,256.3L1007.0,256.5L1008.0,256.3L1009.0,256.7L1010.0,256.2L1011.0,256.1L1012.0,257.0L1013.0,256.8L1014.0,256.4L1015.0,256.6L1016.0,256.4L1017.0,256.2L1018.0,256.5L1019.0,256.4L1020.0,256.7L1021.0,255.8L1022.0,256.6L1023.0,256.4L1024.0,256.1L1025.0,256.2L1026.0,256.2L1027.0,255.9L1028.0,256.1L1029.0,256.5L1030.0,255.8L1031.0,256.2L1032.0,255.6L1033.0,256.1L1034.0,256.4L1035.0,256.2L1036.0,256.3L1037.0,255.9L1038.0,256.4L1039.0,256.0L1040.0,256.5L1041.0,256.3L1042.0,256.1L1043.0,256.7L1044.0,256.1L1045.0,256.5L1046.0,256.2L1047.0,256.2L1048.0,256.5L1049.0,256.3L1050.0,256.2L1051.0,256.1L1052.0,256.2L1053.0,256.2L1054.0,256.1L1055.0,255.8L1056.0,255.4L1057.0,256.1L1058.0,256.1L1059.0,256.5L1060.0,256.3L1061.0,256.5L1062.0,256.6L1063.0,256.1L1064.0,255.9L1065.0,256.3L1066.0,255.9L1067.0,256.0L1068.0,256.5L1069.0,256.3L1070.0,256.4L1071.0,255.7L1072.0,256.1L1073.0,256.4L1074.0,255.7L1075.0,256.1L1076.0,256.2L1077.0,255.4L1078.0,256.5L1079.0,255.8L1080.0,256.0L1081.0,256.5L1082.0,255.5L1083.0,256.2L1084.0,255.9L1085.0,256.0L1086.0,255.8L1087.0,256.4L1088.0,255.7L1089.0,256.1L1090.0,256.1L1091.0,256.0L1092.0,255.9L1093.0,255.9L1094.0,256.3L1095.0,256.1L1096.0,255.9L1097.0,255.6L1098.0,256.0L1099.0,256.1L1100.0,255.9L1101.0,256.4L1102.0,255.4L1103.0,256.7L1104.0,255.9L1105.0,255.6L1106.0,255.4L1107.0,256.2L1108.0,256.1L1109.0,255.8L1110.0,255.9L1111.0,255.9L1112.0,255.8L1113.0,256.2L1114.0,256.1L1115.0,255.8L1116.0,255.4L1117.0,256.3L1118.0,255.7L1119.0,255.5L1120.0,256.2L1121.0,256.0L1122.0,255.2L1123.0,255.3L1124.0,255.7L1125.0,255.4L1126.0,255.8L1127.0,256.6L1128.0,256.7L1129.0,255.8L1130.0,256.0L1131.0,256.1L1132.0,255.7L1133.0,255.3L1134.0,256.1L1135.0,255.7L1136.0,255.9L1137.0,256.0L1138.0,255.5L1139.0,256.3L1140.0,255.8L1141.0,255.8L1142.0,255.6L1143.0,255.9L1144.0,256.0L1145.0,255.6L1146.0,255.9L1147.0,255.6L1148.0,255.3L1149.0,255.6L1150.0,255.9L1151.0,255.9L1152.0,256.0L1153.0,255.5L1154.0,255.6L1155.0,255.7L1156.0,255.9L1157.0,255.6L1158.0,255.4L1159.0,255.2L1160.0,256.0L1161.0,256.0L1162.0,255.4L1163.0,256.1L1164.0,255.6L1165.0,255.8L1166.0,256.0L1167.0,255.5L1168.0,255.4L1169.0,255.1L1170.0,255.7L1171.0,255.7L1172.0,255.9L1173.0,255.8L1174.0,255.6L1175.0,255.9L1176.0,255.3L1177.0,255.7L1178.0,255.7L1179.0,255.5L1180.0,256.1L1181.0,255.7L1182.0,255.9L1183.0,255.8L1184.0,255.5L1185.0,256.1L1186.0,255.9L1187.0,255.5L1188.0,255.5L1189.0,255.2L1190.0,255.5L1191.0,255.4L1192.0,255.6L1193.0,255.4L1194.0,255.7L1195.0,255.5L1196.0,255.0L1197.0,255.3L1198.0,255.2L1199.0,255.1L1200.0,255.4L1201.0,255.7L1202.0,255.1L1203.0,254.8L1204.0,255.4L1205.0,256.3L1206.0,255.2L1207.0,255.5L1208.0,255.3L1209.0,255.7L1210.0,255.8L1211.0,255.4L1212.0,255.8L1213.0,255.1L1214.0,255.5L1215.0,255.0L1216.0,255.4L1217.0,255.2L1218.0,255.4L1219.0,255.0L1220.0,255.4L1221.0,255.4L1222.0,255.2L1223.0,255.1L1224.0,255.0L1225.0,255.2L1226.0,255.5L1227.0,255.3L1228.0,255.4L1229.0,255.7L1230.0,255.2L1231.0,255.4L1232.0,255.6L1233.0,255.5L1234.0,255.4L1235.0,255.3L1236.0,255.9L1237.0,255.3L1238.0,255.2L1239.0,255.4L1240.0,255.8L1241.0,255.7L1242.0,255.3L1243.0,255.5L1244.0,255.4L1245.0,255.3L1246.0,255.4L1247.0,255.4L1248.0,255.3L1249.0,255.7L1250.0,255.1L1251.0,255.6L1252.0,255.8L1253.0,255.8L1254.0,255.3L1255.0,255.1L1256.0,254.7L1257.0,255.2L1258.0,255.9L1259.0,254.7L1260.0,254.7L1261.0,255.4L1262.0,255.3L1263.0,254.6L1264.0,255.1L1265.0,255.2L1266.0,254.7L1267.0,255.4L1268.0,254.7L1269.0,255.5L1270.0,255.2L1271.0,254.9L1272.0,254.6L1273.0,255.0L1274.0,255.1L1275.0,255.1L1276.0,254.9L1277.0,255.0L1278.0,255.3L1279.0,254.8L1280.0,255.0L1281.0,255.2L1282.0,255.1L1283.0,255.3L1284.0,255.5L1285.0,254.9L1286.0,255.1L1287.0,254.2L1288.0,254.9L1289.0,255.2L1290.0,254.7L1291.0,255.4L1292.0,254.4L1293.0,255.4L1294.0,254.8L1295.0,254.7L1296.0,254.8L1297.0,254.9L1298.0,254.7L1299.0,254.6L1300.0,254.8L1301.0,255.3L1302.0,255.1L1303.0,255.4L1304.0,254.8L1305.0,254.8L1306.0,254.8L1307.0,255.0L1308.0,255.1L1309.0,255.5L1310.0,255.1L1311.0,255.0L1312.0,255.3L1313.0,254.7L1314.0,254.5" stroke="#0000f0" stroke-width="4.3" fill="none" stroke-linejoin="round" stroke-linecap="round"/>
<path d="M342,667.1L1314,675.8" stroke="#ff0000" stroke-width="4.1" fill="none" stroke-linecap="round"/>
<path d="M342.0,505.7L343.8,507.2L345.7,506.2L347.6,507.4L349.0,506.0L350.6,507.5L352.4,505.6L353.8,507.2L355.0,506.1L356.6,508.0L358.2,505.6L359.4,507.2L360.8,506.2L362.6,507.2L364.5,505.0L366.3,508.2L367.9,504.8L369.4,507.8L370.9,505.3L372.7,511.0L374.4,507.3L376.2,512.8L377.5,506.6L379.5,504.1L381.0,498.9L382.3,505.6L384.2,503.5L385.5,508.7L386.9,504.2L388.5,508.0L389.9,505.8L391.5,508.3L393.3,505.8L394.5,507.5L396.3,505.1L398.2,507.9L399.9,505.2L401.7,508.9L403.7,505.3L405.5,509.1L407.4,504.3L409.2,512.9L410.6,502.4L411.9,513.1L413.6,500.8L415.5,516.7L417.2,499.4L419.0,514.3L420.9,500.2L422.1,513.1L424.1,501.5L425.8,515.4L427.8,500.8L429.2,511.3L431.1,498.8L432.8,516.8L434.5,497.2L436.1,519.0L437.4,500.2L439.2,522.2L440.5,486.7L442.4,517.9L443.7,504.4L445.1,513.2L446.7,502.2L448.0,512.0L449.5,493.9L451.3,517.3L452.7,502.1L454.5,520.3L455.8,500.3L457.1,517.7L458.5,497.8L459.8,519.7L461.2,498.4L462.9,512.0L464.6,492.1L466.0,519.0L468.0,503.7L469.7,513.5L471.6,498.7L473.2,511.9L474.7,503.3L476.6,512.7L478.2,503.1L479.7,510.0L481.5,499.9L482.7,517.0L484.0,504.5L486.0,512.6L487.8,498.6L489.4,518.1L491.1,501.5L493.0,516.7L494.5,503.1L496.3,510.6L497.9,498.2L499.2,510.6L500.9,494.2L502.0,477.6L502.9,519.9L504.4,497.3L506.2,519.6L507.7,499.6L509.0,520.5L510.5,498.1L512.0,520.4L513.5,501.7L515.5,513.1L517.3,486.9L518.6,516.9L520.5,481.0L521.8,521.4L523.4,549.2L524.7,517.1L526.2,494.0L527.4,525.3L529.3,498.1L530.5,486.6L532.2,530.6L534.2,517.4L536.3,489.5L539.1,525.7L542.3,474.3L547.1,536.0L548.9,458.4L550.4,544.9L551.9,459.1L553.7,587.1L555.5,381.0L557.1,647.1L559.1,387.2L560.3,563.2L562.1,484.2L563.2,569.9L565.0,444.1L566.3,523.5L567.8,483.5L569.6,581.2L571.4,430.9L574.0,565.4L576.0,461.0L577.6,520.6L579.7,499.4L581.3,527.2L582.9,478.2L584.7,530.9L587.9,491.2L590.1,522.8L592.8,457.1L594.6,544.1L596.2,496.8L598.5,444.1L599.7,563.2L601.8,472.7L603.1,564.0L604.9,426.0L606.8,599.7L608.2,419.1L610.3,582.4L611.5,441.2L613.1,572.4L614.6,435.9L616.3,569.1L618.1,462.1L619.6,525.7L620.8,493.5L622.1,546.8L623.7,444.8L625.0,571.3L626.9,436.5L627.9,558.5L631.8,460.8L633.2,544.9L634.5,488.6L636.2,522.8L637.2,492.1L639.4,513.2L641.6,499.4L644.2,495.5L644.6,530.1L647.0,481.0L647.9,522.4L649.6,495.3L651.5,515.8L652.7,487.8L654.1,528.0L655.7,494.1L657.0,517.9L658.2,497.5L660.1,524.8L661.9,490.6L664.1,540.1L665.0,478.9L666.1,470.6L666.9,530.0L667.8,536.6L668.9,497.0L670.2,525.0L672.0,495.7L673.8,521.2L675.3,493.2L677.2,517.2L678.6,489.5L679.7,477.6L681.8,492.3L684.0,479.6L684.8,486.5L686.0,532.6L686.8,515.6L688.8,479.6L690.1,517.3L692.0,497.2L693.8,523.9L695.7,493.0L697.6,524.7L699.0,481.0L700.9,521.0L702.5,481.0L704.5,517.5L706.4,492.0L708.2,479.6L709.8,529.3L711.0,521.1L712.3,500.0L713.9,517.6L715.4,499.6L717.4,517.0L718.8,494.9L720.6,510.5L722.0,498.3L723.6,516.8L725.1,495.7L726.6,514.6L728.1,496.1L729.3,521.1L730.9,498.9L732.3,528.6L733.2,535.6L734.6,479.0L735.6,520.3L737.6,498.9L739.0,511.9L740.8,494.5L742.1,514.6L743.7,492.5L745.4,519.4L746.9,499.7L748.5,512.5L750.2,501.0L751.5,514.0L752.7,500.6L754.3,511.5L755.6,488.1L757.0,516.9L758.5,497.1L760.5,516.5L761.7,498.6L763.5,511.2L765.4,502.8L766.7,515.5L768.7,499.4L770.4,513.3L772.1,501.6L773.3,514.2L774.8,496.7L776.3,510.5L777.7,500.0L779.6,512.1L781.3,495.0L782.5,516.2L783.9,495.6L785.2,512.0L786.6,496.6L788.5,510.8L789.7,498.1L791.0,512.3L792.7,500.1L794.2,519.1L796.0,497.0L797.5,517.5L799.1,503.4L800.8,511.1L802.3,500.7L803.8,511.7L805.1,502.3L806.4,510.1L807.8,498.8L809.2,513.8L810.5,503.0L812.0,511.1L813.7,498.0L814.9,513.5L816.7,503.3L818.6,513.1L820.6,504.1L822.1,508.7L823.7,497.4L825.4,512.0L827.2,499.8L828.9,511.1L830.9,492.8L832.3,522.0L834.1,501.6L835.6,513.9L837.3,503.4L839.2,510.5L840.5,498.9L841.8,512.3L843.3,502.5L844.7,513.5L846.5,501.4L848.0,517.3L849.3,499.1L851.1,509.8L852.4,501.3L854.0,511.0L855.4,503.8L856.7,513.3L858.4,504.5L860.4,493.6L861.4,495.7L863.3,514.8L865.1,502.9L866.7,512.8L868.0,500.4L869.3,515.1L870.6,503.0L871.9,511.2L873.1,499.3L874.3,512.6L876.0,495.8L878.0,511.6L879.5,499.2L881.5,511.5L883.5,497.6L885.4,514.8L887.0,494.1L889.0,520.4L890.0,493.0L891.7,521.9L893.1,500.2L894.9,513.7L897.0,492.8L899.0,519.6L900.1,500.9L902.0,493.6L903.4,494.3L905.2,510.5L906.6,500.5L908.6,512.0L910.5,500.5L912.2,514.4L913.6,503.3L914.9,510.3L916.2,503.4L917.4,516.9L918.8,502.1L920.2,515.6L921.9,503.2L923.1,508.5L924.4,503.1L925.8,514.7L927.2,503.2L929.0,512.5L930.3,502.1L932.2,514.1L933.8,503.7L935.1,509.9L936.9,498.5L938.3,509.3L940.3,502.2L941.8,511.0L943.0,500.8L944.8,512.2L946.7,501.7L948.6,509.4L949.9,497.1L951.1,512.3L952.7,497.4L954.0,510.1L955.8,499.6L957.5,510.4L958.7,499.1L960.3,515.1L961.5,500.9L962.8,508.6L964.4,501.2L965.8,513.2L967.8,496.2L969.7,496.1L971.2,501.8L972.6,511.3L973.9,500.9L975.4,508.4L976.8,504.2L978.5,513.1L980.4,500.7L982.4,509.6L984.3,501.5L985.7,511.2L987.0,503.9L988.9,508.0L990.3,503.8L992.0,510.9L993.4,501.1L994.9,511.1L996.3,500.7L998.2,510.8L1000.1,503.7L1001.4,510.4L1002.8,502.9L1004.2,508.3L1005.7,501.1L1007.0,513.3L1008.7,503.6L1010.4,511.3L1011.9,503.8L1013.5,513.8L1015.0,497.3L1016.5,512.0L1017.8,499.1L1019.4,515.5L1021.0,501.2L1022.5,514.7L1024.4,500.8L1026.4,510.4L1028.0,502.3L1029.4,512.4L1031.0,494.3L1032.5,510.2L1034.0,500.8L1035.9,513.7L1037.7,502.7L1039.0,510.1L1040.5,503.5L1042.0,512.9L1043.9,504.0L1045.9,512.3L1047.1,499.5L1049.0,514.4L1050.3,500.3L1051.7,511.4L1053.4,502.9L1054.8,511.6L1056.4,501.5L1058.1,508.9L1059.7,499.4L1060.9,512.0L1062.6,501.0L1064.1,511.8L1066.0,500.4L1067.8,512.3L1069.3,503.6L1070.7,514.1L1072.3,504.0L1073.6,514.2L1075.0,504.0L1076.6,509.4L1078.0,502.7L1079.9,512.9L1081.5,502.3L1082.8,511.3L1084.3,503.4L1085.7,510.0L1087.1,504.3L1088.5,513.3L1090.5,505.0L1092.0,513.6L1093.2,501.4L1095.2,512.3L1097.1,504.8L1098.9,509.3L1100.9,502.1L1102.8,510.1L1104.8,503.0L1106.1,513.2L1107.3,500.6L1109.0,509.4L1110.3,504.5L1111.9,512.2L1113.6,504.5L1115.5,509.2L1116.7,500.5L1118.3,511.3L1120.2,501.5L1121.5,512.0L1122.7,501.3L1124.3,511.1L1126.2,501.8L1128.0,510.6L1129.5,502.8L1130.9,509.1L1132.3,501.5L1133.8,510.9L1135.3,502.8L1137.0,512.1L1139.0,502.5L1140.7,511.4L1142.5,504.1L1144.2,507.7L1146.0,502.1L1147.5,508.6L1149.2,503.0L1150.8,508.9L1152.4,502.4L1153.6,510.1L1155.6,504.2L1157.4,509.0L1158.9,504.0L1160.5,510.6L1162.3,503.7L1163.7,510.2L1165.4,505.1L1166.8,508.0L1168.5,502.0L1169.8,510.3L1171.7,504.7L1173.3,508.5L1174.7,502.6L1176.2,510.8L1177.9,503.6L1179.7,510.6L1181.1,502.3L1182.8,511.1L1184.6,502.9L1186.1,510.2L1187.6,505.2L1189.3,509.5L1190.7,502.9L1192.3,508.6L1194.1,505.6L1195.6,508.8L1197.5,502.0L1199.2,508.6L1201.0,502.7L1202.9,509.0L1204.5,504.1L1205.8,509.6L1207.3,502.4L1209.1,511.2L1210.7,504.9L1212.7,508.2L1214.5,503.6L1216.1,509.1L1217.5,504.3L1219.4,509.0L1221.4,504.9L1223.3,509.9L1224.6,505.8L1226.1,509.1L1227.7,502.3L1229.1,509.5L1230.3,502.5L1231.6,508.1L1233.2,505.3L1234.6,510.2L1236.2,504.0L1238.2,508.8L1239.8,505.6L1241.2,508.3L1243.0,503.4L1244.4,508.6L1245.9,504.5L1247.1,508.3L1248.9,504.0L1250.2,508.1L1251.6,503.7L1253.3,507.7L1255.2,503.4L1256.7,508.4L1258.5,504.8L1259.7,507.9L1261.4,505.0L1262.9,509.4L1264.2,504.7L1265.9,508.6L1267.9,504.6L1269.5,507.7L1270.8,505.3L1272.3,508.2L1274.2,506.1L1276.0,508.7L1277.4,504.5L1279.3,509.3L1280.5,503.7L1282.3,509.4L1284.2,504.6L1285.7,508.1L1287.2,504.0L1288.5,507.9L1290.1,503.6L1292.1,509.1L1293.5,505.7L1295.3,507.4L1296.8,505.0L1298.0,508.0L1299.9,504.3L1301.3,509.5L1302.9,505.3L1304.4,507.4L1305.9,504.5L1307.4,508.6L1309.1,503.6L1310.9,509.2L1312.7,503.5" stroke="#000" stroke-width="0.9" fill="none" stroke-linejoin="round"/>
<path d="M536.0,499.5L537.4,510.7L538.9,500.7L540.0,510.6L541.2,501.9L542.6,517.2L544.1,499.2L545.5,519.9L546.5,497.0L547.7,517.0L548.8,489.1L550.0,521.9L551.3,486.4L552.4,534.5L553.9,466.8L554.9,560.6L556.3,474.4L557.5,552.7L558.8,476.7L560.0,525.6L561.5,492.7L562.5,527.0L563.6,499.9L565.2,515.5L566.5,494.6L567.6,526.5L569.1,497.1L570.4,528.1L571.5,475.4L572.9,535.0L574.3,497.7L575.5,521.0L576.9,495.6L578.2,513.9L579.2,503.4L580.4,517.0L581.5,503.4L582.7,515.7L583.8,494.0L585.0,516.9L586.1,496.4L587.2,515.7L588.7,501.4L589.7,513.0L591.0,493.9L592.5,515.8L593.8,493.6L595.1,518.9L596.2,503.9L597.3,518.5L598.8,494.9L599.9,527.0L601.1,496.8L602.3,526.7L603.7,472.6L605.3,531.8L606.5,480.0L607.7,553.7L608.7,487.1L610.1,536.2L611.3,471.5L612.5,533.0L613.6,471.7L614.6,526.4L616.2,475.5L617.7,527.8L618.8,500.8L620.1,510.7L621.7,502.3L622.9,517.4L623.9,484.8L624.9,539.4L626.4,486.1L627.9,531.0L629.1,477.6L630.6,524.5L631.8,483.4L633.4,517.3L634.4,497.4L635.8,511.2L637.2,502.6L638.7,509.1L639.9,504.9L641.1,513.1L642.2,503.9L643.8,509.8L644.9,501.3" stroke="#222" stroke-width="0.7" fill="none" stroke-linejoin="round"/>
<path d="M342.0,506.2L342.9,506.2L343.8,506.3L344.7,506.4L345.6,506.6L346.5,506.8L347.4,507.0L348.3,507.1L349.2,507.1L350.1,507.0L351.0,506.7L351.9,506.3L352.8,506.0L353.7,505.9L354.6,506.0L355.5,506.2L356.4,506.5L357.3,506.8L358.2,507.0L359.1,507.2L360.0,507.2L360.9,507.1L361.8,507.0L362.7,506.8L363.6,506.6L364.5,506.5L365.4,506.4L366.3,506.3L367.2,506.2L368.1,506.1L369.0,506.1L369.9,506.3L370.8,506.7L371.7,507.5L372.6,508.6L373.5,510.0L374.4,511.3L375.3,511.9L376.2,511.4L377.1,509.6L378.0,506.9L378.9,504.2L379.8,502.3L380.7,501.6L381.6,502.0L382.5,503.1L383.4,504.3L384.3,505.5L385.2,506.3L386.1,506.9L387.0,507.5L387.9,507.7L388.8,507.2L389.7,506.8L390.6,506.4L391.5,506.1L392.4,505.9L393.3,505.8L394.2,505.8L395.1,506.1L396.0,506.6L396.9,507.3L397.8,507.9L398.7,508.2L399.6,508.1L400.5,507.7L401.4,507.0L402.3,506.3L403.2,505.9L404.1,505.8L405.0,506.0L405.9,506.1L406.8,506.3L407.7,506.7L408.6,507.0L409.5,507.4L410.4,507.7L411.3,507.7L412.2,507.3L413.1,506.6L414.0,505.9L414.9,505.4L415.8,505.1L416.7,505.2L417.6,505.6L418.5,506.0L419.4,506.5L420.3,507.0L421.2,507.3L422.1,507.5L423.0,507.6L423.9,507.6L424.8,507.5L425.7,507.2L426.6,506.9L427.5,506.5L428.4,506.1L429.3,505.7L430.2,505.5L431.1,505.4L432.0,505.5L432.9,505.7L433.8,506.1L434.7,506.5L435.6,507.0L436.5,507.3L437.4,507.6L438.3,507.7L439.2,507.6L440.1,507.2L441.0,506.8L441.9,506.1L442.8,505.3L443.7,504.7L444.6,504.5L445.5,504.7L446.4,505.4L447.3,506.5L448.2,507.6L449.1,508.5L450.0,509.0L450.9,509.1L451.8,508.8L452.7,508.2L453.6,507.5L454.5,506.7L455.4,506.1L456.3,505.5L457.2,505.1L458.1,504.9L459.0,504.9L459.9,505.1L460.8,505.5L461.7,506.1L462.6,506.7L463.5,507.5L464.4,508.1L465.3,508.6L466.2,508.7L467.1,508.2L468.0,507.2L468.9,505.7L469.8,504.3L470.7,503.8L471.6,504.3L472.5,505.8L473.4,507.7L474.3,509.2L475.2,509.6L476.1,508.6L477.0,506.6L477.9,504.6L478.8,503.7L479.7,504.2L480.6,506.1L481.5,508.0L482.4,509.0L483.3,508.6L484.2,507.3L485.1,505.9L486.0,504.9L486.9,504.5L487.8,504.9L488.7,506.1L489.6,507.8L490.5,509.3L491.4,510.1L492.3,509.4L493.2,507.3L494.1,504.6L495.0,502.8L495.9,502.7L496.8,504.5L497.7,507.4L498.6,509.7L499.5,510.4L500.4,509.0L501.3,506.1L502.2,503.1L503.1,502.1L504.0,504.2L504.9,508.6L505.8,511.9L506.7,511.1L507.6,506.7L508.5,502.6L509.4,502.1L510.3,505.0L511.2,508.4L512.1,510.1L513.0,509.3L513.9,506.5L514.8,503.5L515.7,501.7L516.6,502.9L517.5,507.6L518.4,513.5L519.3,516.8L520.2,514.4L521.1,507.4L522.0,499.9L522.9,495.4L523.8,496.1L524.7,501.6L525.6,509.4L526.5,515.1L527.4,516.3L528.3,513.0L529.2,507.2L530.1,502.3L531.0,500.4L531.9,502.0L532.8,505.8L533.7,509.7L534.6,511.4L535.5,509.8L536.4,505.6L537.3,502.0L538.2,502.4L539.1,507.1L540.0,511.9L540.9,511.0L541.8,504.7L542.7,500.1L543.6,503.0L544.5,510.2L545.4,513.2L546.3,508.6L547.2,502.0L548.1,500.8L549.0,506.2L549.9,512.9L550.8,513.4L551.7,504.8L552.6,495.7L553.5,499.1L554.4,511.8L555.3,519.2L556.2,512.2L557.1,499.1L558.0,494.2L558.9,500.9L559.8,511.5L560.7,517.0L561.6,514.5L562.5,507.3L563.4,500.4L564.3,497.2L565.2,498.9L566.1,504.7L567.0,512.2L567.9,518.1L568.8,519.3L569.7,514.7L570.6,505.8L571.5,497.0L572.4,492.4L573.3,494.3L574.2,501.4L575.1,508.8L576.0,511.9L576.9,511.1L577.8,509.7L578.7,507.4L579.6,505.0L580.5,503.3L581.4,503.2L582.3,505.1L583.2,508.2L584.1,510.5L585.0,509.9L585.9,506.3L586.8,502.8L587.7,503.3L588.6,507.4L589.5,510.6L590.4,509.1L591.3,504.8L592.2,502.3L593.1,504.8L594.0,509.7L594.9,511.4L595.8,507.5L596.7,502.2L597.6,501.8L598.5,507.0L599.4,511.7L600.3,511.4L601.2,507.1L602.1,502.9L603.0,501.5L603.9,503.2L604.8,506.7L605.7,509.1L606.6,509.8L607.5,509.1L608.4,507.6L609.3,505.8L610.2,504.6L611.1,504.3L612.0,505.0L612.9,506.2L613.8,507.5L614.7,508.4L615.6,508.7L616.5,507.9L617.4,506.3L618.3,504.5L619.2,503.7L620.1,504.8L621.0,507.4L621.9,509.6L622.8,509.2L623.7,506.3L624.6,504.0L625.5,504.8L626.4,507.3L627.3,508.8L628.2,507.7L629.1,505.4L630.0,504.3L630.9,505.8L631.8,508.6L632.7,509.3L633.6,506.8L634.5,503.8L635.4,503.9L636.3,506.6L637.2,509.0L638.1,509.2L639.0,507.5L639.9,505.4L640.8,504.2L641.7,504.4L642.6,506.0L643.5,508.1L644.4,509.8L645.3,509.7L646.2,507.9L647.1,505.2L648.0,503.3L648.9,503.4L649.8,505.2L650.7,507.4L651.6,508.6L652.5,508.3L653.4,507.2L654.3,506.0L655.2,505.2L656.1,505.4L657.0,506.5L657.9,508.1L658.8,508.8L659.7,507.4L660.6,505.4L661.5,504.6L662.4,505.5L663.3,506.9L664.2,507.6L665.1,507.5L666.0,506.9L666.9,506.2L667.8,505.7L668.7,505.6L669.6,506.1L670.5,506.9L671.4,507.7L672.3,507.9L673.2,507.6L674.1,506.8L675.0,506.1L675.9,505.8L676.8,505.8L677.7,506.1L678.6,506.4L679.5,506.8L680.4,507.0L681.3,507.2L682.2,507.3L683.1,507.0L684.0,506.5L684.9,505.9L685.8,505.4L686.7,505.2L687.6,505.6L688.5,506.3L689.4,507.1L690.3,507.6L691.2,507.8L692.1,507.6L693.0,507.2L693.9,506.7L694.8,506.3L695.7,506.0L696.6,505.9L697.5,505.9L698.4,506.1L699.3,506.3L700.2,506.7L701.1,507.0L702.0,507.2L702.9,507.3L703.8,507.3L704.7,507.1L705.6,506.8L706.5,506.5L707.4,506.1L708.3,505.8L709.2,505.7L710.1,505.8L711.0,506.1L711.9,506.6L712.8,507.2L713.7,507.7L714.6,507.9L715.5,507.7L716.4,507.2L717.3,506.4L718.2,505.7L719.1,505.3L720.0,505.2L720.9,505.7L721.8,506.3L722.7,507.0L723.6,507.3L724.5,507.4L725.4,507.3L726.3,507.1L727.2,506.8L728.1,506.5L729.0,506.3L729.9,506.1L730.8,506.0L731.7,506.0L732.6,506.0L733.5,506.3L734.4,506.6L735.3,507.0L736.2,507.3L737.1,507.6L738.0,507.7L738.9,507.6L739.8,507.3L740.7,506.8L741.6,506.4L742.5,506.0L743.4,505.7L744.3,505.7L745.2,505.9L746.1,506.2L747.0,506.6L747.9,507.0L748.8,507.3L749.7,507.4L750.6,507.3L751.5,507.0L752.4,506.4L753.3,505.7L754.2,505.3L755.1,505.3L756.0,505.7L756.9,506.4L757.8,507.1L758.7,507.6L759.6,507.8L760.5,507.6L761.4,507.3L762.3,506.9L763.2,506.5L764.1,506.2L765.0,505.9L765.9,505.8L766.8,505.8L767.7,506.0L768.6,506.3L769.5,506.7L770.4,507.1L771.3,507.3L772.2,507.4L773.1,507.3L774.0,507.0L774.9,506.8L775.8,506.5L776.7,506.2L777.6,506.0L778.5,505.8L779.4,505.9L780.3,506.3L781.2,506.8L782.1,507.4L783.0,507.8L783.9,507.8L784.8,507.4L785.7,506.7L786.6,506.0L787.5,505.4L788.4,505.3L789.3,505.6L790.2,506.1L791.1,506.8L792.0,507.3L792.9,507.6L793.8,507.7L794.7,507.4L795.6,507.0L796.5,506.6L797.4,506.3L798.3,506.0L799.2,505.9L800.1,505.9L801.0,506.0L801.9,506.2L802.8,506.5L803.7,506.9L804.6,507.2L805.5,507.4L806.4,507.5L807.3,507.4L808.2,507.2L809.1,506.9L810.0,506.6L810.9,506.3L811.8,506.0L812.7,505.8L813.6,505.6L814.5,505.6L815.4,505.9L816.3,506.3L817.2,506.8L818.1,507.3L819.0,507.6L819.9,507.7L820.8,507.6L821.7,507.2L822.6,506.9L823.5,506.5L824.4,506.1L825.3,505.8L826.2,505.7L827.1,505.7L828.0,506.1L828.9,506.7L829.8,507.4L830.7,507.9L831.6,507.9L832.5,507.5L833.4,506.9L834.3,506.3L835.2,506.0L836.1,506.0L837.0,506.2L837.9,506.4L838.8,506.7L839.7,507.0L840.6,507.1L841.5,507.1L842.4,506.9L843.3,506.5L844.2,505.8L845.1,505.3L846.0,505.3L846.9,505.7L847.8,506.3L848.7,507.0L849.6,507.6L850.5,507.8L851.4,507.7L852.3,507.3L853.2,506.8L854.1,506.5L855.0,506.2L855.9,506.1L856.8,506.0L857.7,506.1L858.6,506.3L859.5,506.6L860.4,507.0L861.3,507.4L862.2,507.6L863.1,507.5L864.0,507.2L864.9,506.8L865.8,506.3L866.7,505.9L867.6,505.8L868.5,505.8L869.4,506.0L870.3,506.3L871.2,506.8L872.1,507.2L873.0,507.6L873.9,507.8L874.8,507.7L875.7,507.4L876.6,506.9L877.5,506.4L878.4,506.0L879.3,505.8L880.2,505.8L881.1,505.9L882.0,506.1L882.9,506.2L883.8,506.4L884.7,506.7L885.6,507.0L886.5,507.3L887.4,507.5L888.3,507.6L889.2,507.6L890.1,507.4L891.0,507.0L891.9,506.6L892.8,506.3L893.7,506.0L894.6,505.9L895.5,505.9L896.4,506.0L897.3,506.2L898.2,506.4L899.1,506.8L900.0,507.2L900.9,507.5L901.8,507.7L902.7,507.6L903.6,507.1L904.5,506.5L905.4,506.0L906.3,505.6L907.2,505.6L908.1,505.9L909.0,506.3L909.9,506.8L910.8,507.2L911.7,507.4L912.6,507.2L913.5,506.9L914.4,506.4L915.3,505.9L916.2,505.7L917.1,505.8L918.0,506.2L918.9,506.9L919.8,507.4L920.7,507.7L921.6,507.5L922.5,507.0L923.4,506.4L924.3,505.9L925.2,505.8L926.1,506.0L927.0,506.4L927.9,506.7L928.8,507.0L929.7,507.2L930.6,507.1L931.5,506.9L932.4,506.5L933.3,506.0L934.2,505.6L935.1,505.5L936.0,505.6L936.9,506.0L937.8,506.5L938.7,507.0L939.6,507.4L940.5,507.6L941.4,507.5L942.3,507.4L943.2,507.2L944.1,506.9L945.0,506.6L945.9,506.3L946.8,506.0L947.7,505.7L948.6,505.5L949.5,505.5L950.4,505.7L951.3,506.1L952.2,506.5L953.1,506.9L954.0,507.1L954.9,507.1L955.8,507.1L956.7,507.0L957.6,506.9L958.5,506.7L959.4,506.4L960.3,506.2L961.2,505.9L962.1,505.8L963.0,505.9L963.9,506.3L964.8,506.8L965.7,507.4L966.6,507.8L967.5,507.9L968.4,507.7L969.3,507.2L970.2,506.7L971.1,506.3L972.0,506.0L972.9,505.9L973.8,505.9L974.7,505.9L975.6,506.1L976.5,506.4L977.4,506.7L978.3,507.0L979.2,507.3L980.1,507.5L981.0,507.6L981.9,507.4L982.8,507.1L983.7,506.7L984.6,506.2L985.5,505.9L986.4,505.7L987.3,505.8L988.2,506.0L989.1,506.4L990.0,506.8L990.9,507.1L991.8,507.2L992.7,507.2L993.6,506.9L994.5,506.6L995.4,506.3L996.3,506.0L997.2,505.8L998.1,506.0L999.0,506.3L999.9,506.8L1000.8,507.3L1001.7,507.6L1002.6,507.6L1003.5,507.3L1004.4,506.8L1005.3,506.4L1006.2,506.0L1007.1,505.7L1008.0,505.7L1008.9,505.9L1009.8,506.2L1010.7,506.6L1011.6,507.0L1012.5,507.4L1013.4,507.6L1014.3,507.6L1015.2,507.3L1016.1,506.8L1017.0,506.3L1017.9,505.8L1018.8,505.6L1019.7,505.7L1020.6,506.1L1021.5,506.6L1022.4,506.9L1023.3,507.1L1024.2,507.1L1025.1,506.9L1026.0,506.6L1026.9,506.3L1027.8,506.1L1028.7,506.0L1029.6,506.2L1030.5,506.6L1031.4,507.0L1032.3,507.4L1033.2,507.5L1034.1,507.3L1035.0,506.9L1035.9,506.4L1036.8,506.0L1037.7,505.7L1038.6,505.5L1039.5,505.7L1040.4,506.0L1041.3,506.4L1042.2,506.9L1043.1,507.3L1044.0,507.6L1044.9,507.6L1045.8,507.5L1046.7,507.3L1047.6,507.0L1048.5,506.7L1049.4,506.5L1050.3,506.3L1051.2,506.1L1052.1,506.0L1053.0,505.9L1053.9,505.8L1054.8,506.0L1055.7,506.2L1056.6,506.6L1057.5,507.0L1058.4,507.4L1059.3,507.5L1060.2,507.5L1061.1,507.3L1062.0,507.0L1062.9,506.8L1063.8,506.6L1064.7,506.4L1065.6,506.2L1066.5,506.1L1067.4,506.1L1068.3,506.2L1069.2,506.5L1070.1,507.0L1071.0,507.4L1071.9,507.7L1072.8,507.6L1073.7,507.1L1074.6,506.4L1075.5,505.9L1076.4,505.7L1077.3,505.8L1078.2,506.2L1079.1,506.7L1080.0,507.1L1080.9,507.3L1081.8,507.3L1082.7,507.1L1083.6,506.6L1084.5,506.1L1085.4,505.7L1086.3,505.6L1087.2,505.7L1088.1,506.1L1089.0,506.6L1089.9,507.0L1090.8,507.2L1091.7,507.4L1092.6,507.3L1093.5,507.1L1094.4,506.9L1095.3,506.6L1096.2,506.2L1097.1,506.0L1098.0,505.8L1098.9,505.8L1099.8,506.0L1100.7,506.3L1101.6,506.7L1102.5,507.1L1103.4,507.3L1104.3,507.3L1105.2,507.1L1106.1,506.8L1107.0,506.5L1107.9,506.2L1108.8,505.9L1109.7,505.9L1110.6,506.0L1111.5,506.4L1112.4,506.9L1113.3,507.3L1114.2,507.5L1115.1,507.4L1116.0,507.1L1116.9,506.7L1117.8,506.3L1118.7,506.0L1119.6,505.8L1120.5,505.7L1121.4,505.8L1122.3,506.1L1123.2,506.6L1124.1,507.0L1125.0,507.4L1125.9,507.7L1126.8,507.8L1127.7,507.6L1128.6,507.3L1129.5,506.9L1130.4,506.6L1131.3,506.4L1132.2,506.3L1133.1,506.2L1134.0,506.1L1134.9,506.2L1135.8,506.3L1136.7,506.5L1137.6,506.7L1138.5,507.0L1139.4,507.3L1140.3,507.4L1141.2,507.3L1142.1,507.0L1143.0,506.5L1143.9,506.0L1144.8,505.7L1145.7,505.7L1146.6,506.0L1147.5,506.5L1148.4,507.0L1149.3,507.4L1150.2,507.5L1151.1,507.2L1152.0,506.8L1152.9,506.2L1153.8,505.7L1154.7,505.6L1155.6,505.9L1156.5,506.4L1157.4,506.9L1158.3,507.4L1159.2,507.5L1160.1,507.4L1161.0,507.0L1161.9,506.5L1162.8,506.1L1163.7,505.8L1164.6,505.8L1165.5,506.0L1166.4,506.4L1167.3,506.8L1168.2,507.0L1169.1,507.2L1170.0,507.1L1170.9,507.0L1171.8,506.8L1172.7,506.6L1173.6,506.4L1174.5,506.2L1175.4,506.0L1176.3,505.9L1177.2,505.9L1178.1,506.0L1179.0,506.3L1179.9,506.7L1180.8,507.1L1181.7,507.4L1182.6,507.6L1183.5,507.6L1184.4,507.5L1185.3,507.3L1186.2,507.0L1187.1,506.7L1188.0,506.4L1188.9,506.3L1189.8,506.1L1190.7,506.0L1191.6,505.9L1192.5,505.9L1193.4,506.0L1194.3,506.4L1195.2,506.8L1196.1,507.2L1197.0,507.5L1197.9,507.6L1198.8,507.4L1199.7,506.9L1200.6,506.5L1201.5,506.1L1202.4,506.0L1203.3,506.1L1204.2,506.4L1205.1,506.7L1206.0,507.0L1206.9,507.3L1207.8,507.3L1208.7,507.0L1209.6,506.5L1210.5,506.0L1211.4,505.7L1212.3,505.8L1213.2,506.2L1214.1,506.7L1215.0,507.1L1215.9,507.3L1216.8,507.3L1217.7,507.1L1218.6,506.7L1219.5,506.3L1220.4,505.9L1221.3,505.7L1222.2,505.7L1223.1,506.0L1224.0,506.4L1224.9,506.8L1225.8,507.1L1226.7,507.3L1227.6,507.2L1228.5,507.1L1229.4,506.8L1230.3,506.4L1231.2,506.0L1232.1,505.8L1233.0,505.8L1233.9,506.1L1234.8,506.6L1235.7,507.2L1236.6,507.5L1237.5,507.5L1238.4,507.2L1239.3,506.8L1240.2,506.4L1241.1,506.1L1242.0,506.0L1242.9,506.0L1243.8,506.1L1244.7,506.3L1245.6,506.6L1246.5,506.8L1247.4,507.1L1248.3,507.2L1249.2,507.3L1250.1,507.3L1251.0,507.2L1251.9,507.0L1252.8,506.8L1253.7,506.5L1254.6,506.2L1255.5,505.9L1256.4,505.8L1257.3,505.7L1258.2,505.8L1259.1,506.0L1260.0,506.3L1260.9,506.6L1261.8,506.9L1262.7,507.2L1263.6,507.3L1264.5,507.3L1265.4,507.1L1266.3,506.8L1267.2,506.4L1268.1,506.1L1269.0,505.9L1269.9,506.0L1270.8,506.3L1271.7,506.8L1272.6,507.2L1273.5,507.3L1274.4,507.2L1275.3,506.9L1276.2,506.4L1277.1,505.9L1278.0,505.6L1278.9,505.7L1279.8,506.2L1280.7,506.9L1281.6,507.4L1282.5,507.7L1283.4,507.5L1284.3,507.1L1285.2,506.7L1286.1,506.5L1287.0,506.3L1287.9,506.2L1288.8,506.2L1289.7,506.2L1290.6,506.4L1291.5,506.6L1292.4,506.8L1293.3,507.2L1294.2,507.5L1295.1,507.7L1296.0,507.6L1296.9,507.3L1297.8,506.9L1298.7,506.4L1299.6,506.1L1300.5,505.9L1301.4,505.9L1302.3,506.1L1303.2,506.2L1304.1,506.4L1305.0,506.7L1305.9,506.9L1306.8,507.2L1307.7,507.4L1308.6,507.4L1309.5,507.3L1310.4,507.0L1311.3,506.7L1312.2,506.3L1313.1,506.0L1314.0,505.8" stroke="#cccc00" stroke-width="2.1" fill="none" stroke-linejoin="round"/>
<path d="M1151,605.5H1313 M1151,598.5V612.8 M1313,598.5V612.8" stroke="#c0c0c0" stroke-width="4.6" fill="none"/>
<rect x="220.5" y="504.4" width="14" height="5" fill="#d8d8d8"/>
<circle cx="227.6" cy="506.9" r="4.1" fill="#000"/>
<rect x="179.5" y="110.4" width="1296" height="792" fill="none" stroke="#000" stroke-width="2.7"/>
<path class="k" d="M179.5,902.4v11.5M179.5,110.4v-11.5M195.7,902.4v6.0M195.7,110.4v-6.0M211.9,902.4v6.0M211.9,110.4v-6.0M228.1,902.4v6.0M228.1,110.4v-6.0M244.3,902.4v6.0M244.3,110.4v-6.0M260.5,902.4v6.0M260.5,110.4v-6.0M276.7,902.4v6.0M276.7,110.4v-6.0M292.9,902.4v6.0M292.9,110.4v-6.0M309.1,902.4v6.0M309.1,110.4v-6.0M325.3,902.4v6.0M325.3,110.4v-6.0M341.5,902.4v11.5M341.5,110.4v-11.5M357.7,902.4v6.0M357.7,110.4v-6.0M373.9,902.4v6.0M373.9,110.4v-6.0M390.1,902.4v6.0M390.1,110.4v-6.0M406.3,902.4v6.0M406.3,110.4v-6.0M422.5,902.4v6.0M422.5,110.4v-6.0M438.7,902.4v6.0M438.7,110.4v-6.0M454.9,902.4v6.0M454.9,110.4v-6.0M471.1,902.4v6.0M471.1,110.4v-6.0M487.3,902.4v6.0M487.3,110.4v-6.0M503.5,902.4v11.5M503.5,110.4v-11.5M519.7,902.4v6.0M519.7,110.4v-6.0M535.9,902.4v6.0M535.9,110.4v-6.0M552.1,902.4v6.0M552.1,110.4v-6.0M568.3,902.4v6.0M568.3,110.4v-6.0M584.5,902.4v6.0M584.5,110.4v-6.0M600.7,902.4v6.0M600.7,110.4v-6.0M616.9,902.4v6.0M616.9,110.4v-6.0M633.1,902.4v6.0M633.1,110.4v-6.0M649.3,902.4v6.0M649.3,110.4v-6.0M665.5,902.4v11.5M665.5,110.4v-11.5M681.7,902.4v6.0M681.7,110.4v-6.0M697.9,902.4v6.0M697.9,110.4v-6.0M714.1,902.4v6.0M714.1,110.4v-6.0M730.3,902.4v6.0M730.3,110.4v-6.0M746.5,902.4v6.0M746.5,110.4v-6.0M762.7,902.4v6.0M762.7,110.4v-6.0M778.9,902.4v6.0M778.9,110.4v-6.0M795.1,902.4v6.0M795.1,110.4v-6.0M811.3,902.4v6.0M811.3,110.4v-6.0M827.5,902.4v11.5M827.5,110.4v-11.5M843.7,902.4v6.0M843.7,110.4v-6.0M859.9,902.4v6.0M859.9,110.4v-6.0M876.1,902.4v6.0M876.1,110.4v-6.0M892.3,902.4v6.0M892.3,110.4v-6.0M908.5,902.4v6.0M908.5,110.4v-6.0M924.7,902.4v6.0M924.7,110.4v-6.0M940.9,902.4v6.0M940.9,110.4v-6.0M957.1,902.4v6.0M957.1,110.4v-6.0M973.3,902.4v6.0M973.3,110.4v-6.0M989.5,902.4v11.5M989.5,110.4v-11.5M1005.7,902.4v6.0M1005.7,110.4v-6.0M1021.9,902.4v6.0M1021.9,110.4v-6.0M1038.1,902.4v6.0M1038.1,110.4v-6.0M1054.3,902.4v6.0M1054.3,110.4v-6.0M1070.5,902.4v6.0M1070.5,110.4v-6.0M1086.7,902.4v6.0M1086.7,110.4v-6.0M1102.9,902.4v6.0M1102.9,110.4v-6.0M1119.1,902.4v6.0M1119.1,110.4v-6.0M1135.3,902.4v6.0M1135.3,110.4v-6.0M1151.5,902.4v11.5M1151.5,110.4v-11.5M1167.7,902.4v6.0M1167.7,110.4v-6.0M1183.9,902.4v6.0M1183.9,110.4v-6.0M1200.1,902.4v6.0M1200.1,110.4v-6.0M1216.3,902.4v6.0M1216.3,110.4v-6.0M1232.5,902.4v6.0M1232.5,110.4v-6.0M1248.7,902.4v6.0M1248.7,110.4v-6.0M1264.9,902.4v6.0M1264.9,110.4v-6.0M1281.1,902.4v6.0M1281.1,110.4v-6.0M1297.3,902.4v6.0M1297.3,110.4v-6.0M1313.5,902.4v11.5M1313.5,110.4v-11.5M1329.7,902.4v6.0M1329.7,110.4v-6.0M1345.9,902.4v6.0M1345.9,110.4v-6.0M1362.1,902.4v6.0M1362.1,110.4v-6.0M1378.3,902.4v6.0M1378.3,110.4v-6.0M1394.5,902.4v6.0M1394.5,110.4v-6.0M1410.7,902.4v6.0M1410.7,110.4v-6.0M1426.9,902.4v6.0M1426.9,110.4v-6.0M1443.1,902.4v6.0M1443.1,110.4v-6.0M1459.3,902.4v6.0M1459.3,110.4v-6.0M1475.5,902.4v11.5M1475.5,110.4v-11.5M179.5,902.4h-12.3M179.5,836.4h-6.0M179.5,770.4h-12.3M179.5,704.4h-6.0M179.5,638.4h-12.3M179.5,572.4h-6.0M179.5,506.4h-12.3M179.5,440.4h-6.0M179.5,374.4h-12.3M179.5,308.4h-6.0M179.5,242.4h-12.3M179.5,176.4h-6.0M179.5,110.4h-12.3M1475.5,483.2h6.0M1475.5,458.3h6.0M1475.5,433.4h6.0M1475.5,408.5h11.5M1475.5,383.6h6.0M1475.5,358.7h6.0M1475.5,333.8h6.0M1475.5,308.9h11.5M1475.5,284.0h6.0M1475.5,259.1h6.0M1475.5,234.2h6.0M1475.5,209.3h11.5M1475.5,184.4h6.0M1475.5,159.5h6.0M1475.5,134.6h6.0M1475.5,902.2h11.5M1475.5,889.0h6.0M1475.5,875.8h6.0M1475.5,862.6h6.0M1475.5,849.4h6.0M1475.5,836.2h11.5M1475.5,823.0h6.0M1475.5,809.8h6.0M1475.5,796.6h6.0M1475.5,783.4h6.0M1475.5,770.2h11.5M1475.5,757.0h6.0M1475.5,743.8h6.0M1475.5,730.6h6.0M1475.5,717.4h6.0M1475.5,704.2h11.5M1475.5,691.0h6.0M1475.5,677.8h6.0M1475.5,664.6h6.0M1475.5,651.4h6.0M1475.5,638.2h11.5M1475.5,625.0h6.0M1475.5,611.8h6.0M1475.5,598.6h6.0M1475.5,585.4h6.0M1475.5,572.2h11.5M1475.5,559.0h6.0M1475.5,545.8h6.0M1475.5,532.6h6.0M1475.5,519.4h6.0"/>
<text class="a" x="179.5" y="943.2" text-anchor="middle">−10</text>
<text class="a" x="341.5" y="943.2" text-anchor="middle">0</text>
<text class="a" x="503.5" y="943.2" text-anchor="middle">10</text>
<text class="a" x="665.5" y="943.2" text-anchor="middle">20</text>
<text class="a" x="827.5" y="943.2" text-anchor="middle">30</text>
<text class="a" x="989.5" y="943.2" text-anchor="middle">40</text>
<text class="a" x="1151.5" y="943.2" text-anchor="middle">50</text>
<text class="a" x="1313.5" y="943.2" text-anchor="middle">60</text>
<text class="a" x="1475.5" y="943.2" text-anchor="middle">70</text>
<text class="a" x="155.8" y="910.8" text-anchor="end">−6000</text>
<text class="a" x="155.8" y="778.8" text-anchor="end">−4000</text>
<text class="a" x="155.8" y="646.8" text-anchor="end">−2000</text>
<text class="a" x="155.8" y="514.8" text-anchor="end">0</text>
<text class="a" x="155.8" y="382.8" text-anchor="end">2000</text>
<text class="a" x="155.8" y="250.8" text-anchor="end">4000</text>
<text class="a" x="155.8" y="118.8" text-anchor="end">6000</text>
<text class="a" x="1498.5" y="416.9">1024</text>
<text class="a" x="1498.5" y="317.3">1028</text>
<text class="a" x="1498.5" y="217.7">1032</text>
<text class="a" x="1565" y="910.6" text-anchor="end">−1500</text>
<text class="a" x="1565" y="844.6" text-anchor="end">−1000</text>
<text class="a" x="1565" y="778.6" text-anchor="end">−500</text>
<text class="a" x="1565" y="712.6" text-anchor="end">0</text>
<text class="a" x="1565" y="646.6" text-anchor="end">500</text>
<text class="a" x="1565" y="580.6" text-anchor="end">1000</text>
<text class="l" x="827.5" y="990.7" text-anchor="middle">Time [min] from 2017−05−03 05:00:00 UTC</text>
<text class="l" transform="translate(61.2,506.4) rotate(-90)" text-anchor="middle">Obs’d Gravity [nm/s<tspan font-size="19.5" dy="-9.5">2</tspan><tspan dy="9.5">]</tspan></text>
<text class="l" transform="translate(1599.5,308.8) rotate(-90)" text-anchor="middle">Pressure [hPa]</text>
<text class="l" transform="translate(1613.4,704.2) rotate(-90)" text-anchor="middle">Tide [nm/s<tspan font-size="19.5" dy="-9.5">2</tspan><tspan dy="9.5">]</tspan></text>
<text class="a" transform="translate(259.8,506.3) rotate(-90)" text-anchor="middle">Typical noise level</text>
<text class="a" transform="translate(1403.8,401.6) rotate(-90)">1 DIV = 0.5 hPa/h</text>
<text class="a" transform="translate(1442.2,401.6) rotate(-90)">average = 0.1296</text>
<text class="b" x="208" y="887.7">The requested 1−hour, 1−second sampling</text>
<text class="b" x="1446.5" y="887.7" text-anchor="end">End at 2017−05−03 05:59:59 UTC</text>
<text class="t" x="1011.2" y="82.2" text-anchor="middle">SCG_054 gravimeter Onsala Space Observatory, Sweden</text>
<rect x="182.7" y="18.4" width="372.7" height="162.7" fill="#fff" stroke="#7a7a7a" stroke-width="1.1"/>
<path d="M220,39.4H276.3" stroke="#3c3cff" stroke-width="1.1"/>
<circle cx="248.3" cy="39.4" r="4.3" fill="#0000ff"/>
<path d="M220,69.8H276.3" stroke="#40d0d0" stroke-width="1.1"/>
<circle cx="248.3" cy="69.8" r="4.3" fill="#00c4c4"/>
<path d="M220,100.2H276.3" stroke="#000" stroke-width="2.5"/>
<path d="M220,130.6H276.3" stroke="#c0c0c0" stroke-width="2.9"/>
<path d="M220,161.0H276.3" stroke="#ff2a2a" stroke-width="0.9"/>
<circle cx="248.3" cy="161.0" r="4.3" fill="#ff0000"/>
<text class="a" x="295" y="47.8">Pressure</text>
<text class="a" x="295" y="78.2">dP/dt range ±0.3 hPa/s</text>
<text class="a" x="295" y="108.6">Residual</text>
<text class="a" x="295" y="139.0">... last 10 min.</text>
<text class="a" x="295" y="169.4">Theor.Tide</text>
</svg></body></html>
